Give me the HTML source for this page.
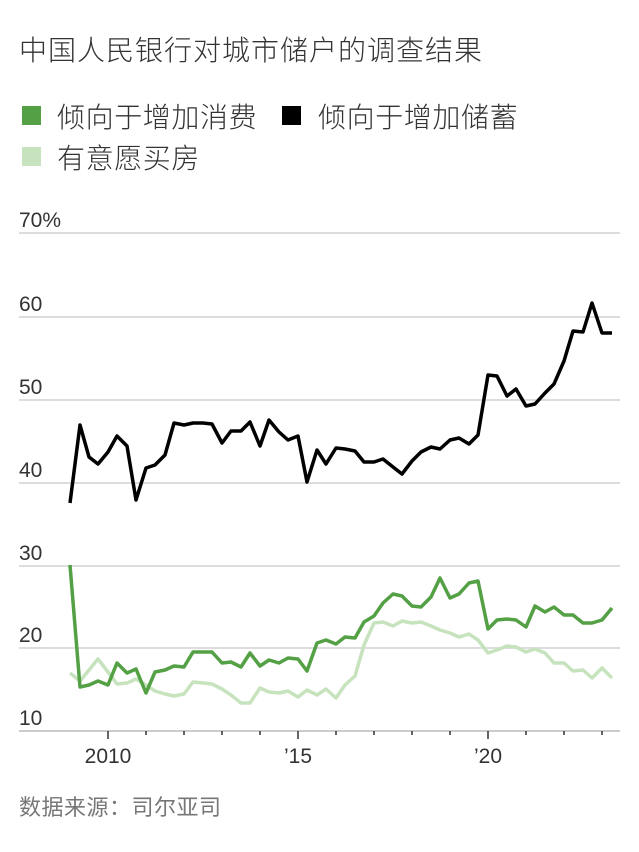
<!DOCTYPE html>
<html><head><meta charset="utf-8"><style>
body{margin:0;background:#fff;width:639px;height:852px;overflow:hidden;font-family:"Liberation Sans","Noto Sans CJK SC",sans-serif;color:#333}
.t{position:absolute;white-space:nowrap}
</style></head><body>
<div class="t" style="left:19px;top:29px;font-size:28px;letter-spacing:1px;color:#333;font-weight:300">中国人民银行对城市储户的调查结果</div>
<div class="t" style="left:22px;top:106px;width:19px;height:19px;background:#53a045"></div>
<div class="t" style="left:57px;top:96px;font-size:28px;letter-spacing:0.6px;font-weight:300">倾向于增加消费</div>
<div class="t" style="left:282px;top:106px;width:19px;height:19px;background:#000"></div>
<div class="t" style="left:318px;top:96px;font-size:28px;letter-spacing:0.6px;font-weight:300">倾向于增加储蓄</div>
<div class="t" style="left:22px;top:147px;width:19px;height:19px;background:#c6e3bd"></div>
<div class="t" style="left:57px;top:137px;font-size:28px;letter-spacing:0.6px;font-weight:300">有意愿买房</div>
<div class="t" style="left:19px;top:790px;font-size:22px;color:#777;letter-spacing:0.5px">数据来源：司尔亚司</div>
<svg width="639" height="852" style="position:absolute;left:0;top:0" font-family="Liberation Sans, sans-serif" font-size="21" fill="#333">
<g stroke="#ddd" stroke-width="2">
<line x1="19" x2="620" y1="233" y2="233"/><line x1="19" x2="620" y1="317" y2="317"/><line x1="19" x2="620" y1="400" y2="400"/><line x1="19" x2="620" y1="483" y2="483"/><line x1="19" x2="620" y1="566" y2="566"/><line x1="19" x2="620" y1="648" y2="648"/>
</g>
<line x1="19" x2="620" y1="731" y2="731" stroke="#ccc" stroke-width="2"/>
<text x="19" y="227">70%</text><text x="19" y="311">60</text><text x="19" y="394">50</text><text x="19" y="477">40</text><text x="19" y="560">30</text><text x="19" y="642">20</text><text x="19" y="725">10</text>
<g stroke="#333" stroke-width="1.5">
<line x1="108" x2="108" y1="731" y2="739"/><line x1="146" x2="146" y1="731" y2="735"/><line x1="184" x2="184" y1="731" y2="735"/><line x1="222" x2="222" y1="731" y2="735"/><line x1="260" x2="260" y1="731" y2="735"/><line x1="298" x2="298" y1="731" y2="739"/><line x1="336" x2="336" y1="731" y2="735"/><line x1="374" x2="374" y1="731" y2="735"/><line x1="412" x2="412" y1="731" y2="735"/><line x1="450" x2="450" y1="731" y2="735"/><line x1="488" x2="488" y1="731" y2="739"/><line x1="526" x2="526" y1="731" y2="735"/><line x1="564" x2="564" y1="731" y2="735"/><line x1="602" x2="602" y1="731" y2="735"/>
</g>
<text x="108" y="763" text-anchor="middle">2010</text><text x="298" y="763" text-anchor="middle">’15</text><text x="488" y="763" text-anchor="middle">’20</text>
<g fill="none" stroke-width="3.5" stroke-linejoin="round">
<polyline stroke="#c6e3bd" points="70,673 80,681 89,670 98,659 108,672 117,684 127,683 136,679 146,685 155,691 165,694 174,696 184,694 193,682 203,683 212,684 222,689 231,695 241,703 250,703 260,688 269,692 279,693 288,691 298,697 307,690 317,695 326,689 336,698 345,685 355,676 364,645 374,623 383,622 393,626 402,621 412,623 421,622 431,626 440,630 450,633 459,637 469,634 478,640 488,653 497,650 507,646 516,647 526,652 535,649 545,653 554,663 564,663 573,671 583,670 592,678 602,668 612,678"/>
<polyline stroke="#53a045" points="70,565 80,687 89,685 98,681 108,685 117,663 127,673 136,669 146,693 155,672 165,670 174,666 184,667 193,652 203,652 212,652 222,663 231,662 241,667 250,653 260,666 269,660 279,663 288,658 298,659 307,671 317,643 326,640 336,644 345,637 355,638 364,622 374,616 383,603 393,594 402,596 412,606 421,607 431,597 440,578 450,598 459,594 469,583 478,581 488,629 497,620 507,619 516,620 526,627 535,606 545,612 554,607 564,615 573,615 583,623 592,623 602,620 612,608"/>
<polyline stroke="#000" points="70,503 80,425 89,457 98,464 108,452 117,436 127,446 136,500 146,468 155,465 165,455 174,423 184,425 193,423 203,423 212,424 222,443 231,431 241,431 250,422 260,446 269,420 279,432 288,440 298,436 307,482 317,450 326,464 336,448 345,449 355,451 364,462 374,462 383,459 393,467 402,474 412,461 421,452 431,447 440,449 450,440 459,438 469,444 478,435 488,375 497,376 507,396 516,389 526,406 535,404 545,393 554,384 564,361 573,331 583,332 592,303 602,333 612,333"/>
</g>
</svg>
</body></html>
